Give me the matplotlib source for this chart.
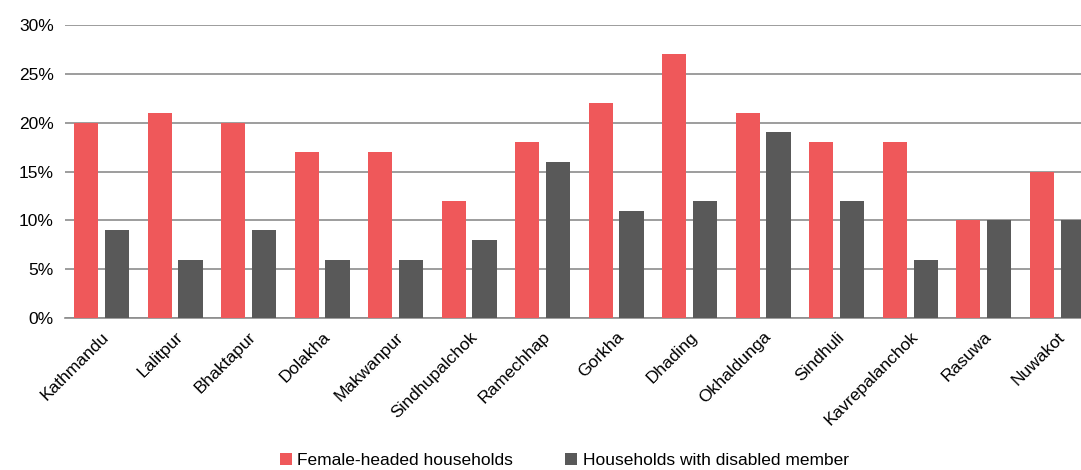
import numpy as np
import matplotlib.pyplot as plt
from matplotlib.ticker import PercentFormatter

plt.rcParams['font.family'] = ['Liberation Sans', 'DejaVu Sans']

districts = ['Kathmandu', 'Lalitpur', 'Bhaktapur', 'Dolakha', 'Makwanpur',
             'Sindhupalchok', 'Ramechhap', 'Gorkha', 'Dhading', 'Okhaldunga',
             'Sindhuli', 'Kavrepalanchok', 'Rasuwa', 'Nuwakot']
female_headed = [20, 21, 20, 17, 17, 12, 18, 22, 27, 21, 18, 18, 10, 15]
disabled_member = [9, 6, 9, 6, 6, 8, 16, 11, 12, 19, 12, 6, 10, 10]

red = '#EF585A'
grey = '#595959'

fig = plt.figure(figsize=(10.81, 4.70), dpi=100)
ax = fig.add_axes([0.060, 0.323, 0.952, 0.624])

x = np.arange(len(districts))
w = 0.33
ax.bar(x - 0.21, female_headed, w, color=red, label='Female-headed households', zorder=3)
ax.bar(x + 0.21, disabled_member, w, color=grey, label='Households with disabled member', zorder=3)

ax.set_xlim(-0.5, len(districts) - 0.5)
ax.set_ylim(0, 30)
ax.set_yticks(range(0, 31, 5))
ax.yaxis.set_major_formatter(PercentFormatter(decimals=0))
ax.grid(axis='y', color='#8c8c8c', linewidth=1.2, zorder=0)
for s in ['top', 'right', 'left']:
    ax.spines[s].set_visible(False)
ax.spines['bottom'].set_color('#8c8c8c')
ax.spines['bottom'].set_linewidth(1.2)

ax.set_xticks(x)
ax.set_xticklabels(districts, rotation=45, ha='right', rotation_mode='anchor', fontsize=12.5)
ax.tick_params(axis='x', length=0, pad=8)
ax.tick_params(axis='y', length=0, labelsize=12.5, pad=8)

fig.legend(loc='lower center', bbox_to_anchor=(0.522, -0.03), ncol=2, frameon=False,
           fontsize=12.5, handlelength=0.7, handleheight=0.7, handletextpad=0.3,
           columnspacing=3.0)

fig.savefig('out.png', dpi=100)
